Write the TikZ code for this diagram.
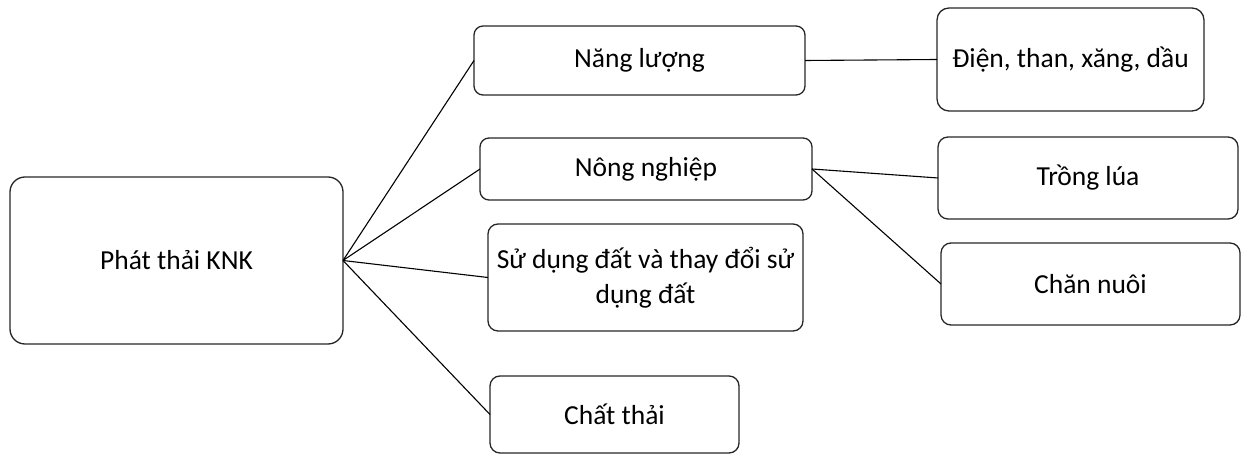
\documentclass[tikz,border=0pt]{standalone}
\usepackage{fontspec}
\setmainfont{Carlito}
\begin{document}
\begin{tikzpicture}[x=1pt,y=-1pt,
  box/.style={draw=black!85, line width=1.3pt, rounded corners=#1, inner sep=0pt, outer sep=0pt,
    align=center, font=\fontsize{27.5}{35}\selectfont},
  box/.default=9pt,
  link/.style={draw=black, line width=1.1pt}]
  \useasboundingbox (0,0) rectangle (1247,454);

  % central box
  \node[box=15pt, minimum width=333pt, minimum height=167pt] (root) at (176.5,260.5) {Phát thải KNK};

  % sectors
  \node[box, minimum width=331pt, minimum height=69pt] (nang) at (639.5,60.5) {Năng lượng};
  \node[box, minimum width=332pt, minimum height=62pt] (nong) at (646,169) {Nông nghiệp};
  \node[box=10pt, minimum width=315pt, minimum height=107pt] (sudung) at (645.5,277.5)
    {Sử dụng đất và thay đổi sử\\dụng đất};
  \node[box=10pt, minimum width=249pt, minimum height=77pt] (chat) at (614.5,414.5) {Chất thải};

  % sub-sources
  \node[box=12pt, minimum width=267pt, minimum height=103pt] (dien) at (1070.5,59.5) {Điện, than, xăng, dầu};
  \node[box=10pt, minimum width=300pt, minimum height=82pt] (trong) at (1088,178) {Trồng lúa};
  \node[box=10pt, minimum width=299pt, minimum height=82pt] (chan) at (1090.5,284) {Chăn nuôi};

  % connectors
  \draw[link] (root.east) -- (nang.west);
  \draw[link] (root.east) -- (nong.west);
  \draw[link] (root.east) -- (sudung.west);
  \draw[link] (root.east) -- (chat.west);
  \draw[link] (nang.east) -- (dien.west);
  \draw[link] (nong.east) -- (trong.west);
  \draw[link] (nong.east) -- (chan.west);
\end{tikzpicture}
\end{document}
